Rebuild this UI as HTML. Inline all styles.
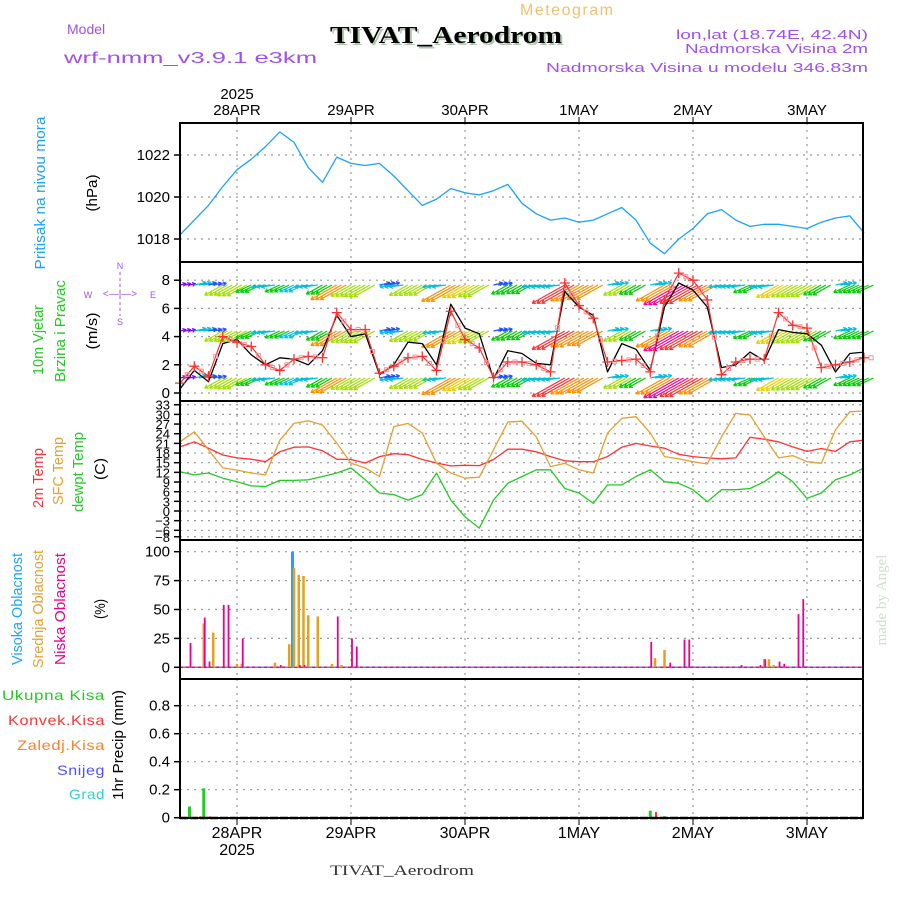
<!DOCTYPE html>
<html><head><meta charset="utf-8"><style>
html,body{margin:0;padding:0;background:#fff;}
svg{display:block;font-family:"Liberation Sans",sans-serif;}
</style></head><body>
<svg id="chart" width="900" height="900" viewBox="0 0 900 900" xmlns="http://www.w3.org/2000/svg">
<rect x="0" y="0" width="900" height="900" fill="#fff"/>
<text x="520" y="15" font-size="16" fill="#f0c070" letter-spacing="1.5">Meteogram</text>
<text x="67" y="34" font-size="14" fill="#a050f0">Model</text>
<text x="64" y="63" font-size="16" fill="#a050f0" textLength="253" lengthAdjust="spacingAndGlyphs">wrf-nmm_v3.9.1 e3km</text>
<text x="332" y="45" font-size="24" font-weight="bold" fill="#b0c8b0" font-family="Liberation Serif, serif" textLength="232" lengthAdjust="spacingAndGlyphs">TIVAT_Aerodrom</text>
<text x="330" y="43" font-size="24" font-weight="bold" fill="#000" font-family="Liberation Serif, serif" textLength="232" lengthAdjust="spacingAndGlyphs">TIVAT_Aerodrom</text>
<text x="868" y="39" font-size="13" fill="#a050f0" text-anchor="end" textLength="192" lengthAdjust="spacingAndGlyphs">lon,lat (18.74E, 42.4N)</text>
<text x="868" y="53" font-size="13" fill="#a050f0" text-anchor="end" textLength="183" lengthAdjust="spacingAndGlyphs">Nadmorska Visina 2m</text>
<text x="868" y="72" font-size="13" fill="#a050f0" text-anchor="end" textLength="322" lengthAdjust="spacingAndGlyphs">Nadmorska Visina u modelu 346.83m</text>

<g font-size="15">
<text transform="translate(45,193) rotate(-90)" text-anchor="middle" fill="#1aa3ff" textLength="153" lengthAdjust="spacingAndGlyphs">Pritisak na nivou mora</text>
<text transform="translate(97,193) rotate(-90)" text-anchor="middle" fill="#000" textLength="37" lengthAdjust="spacingAndGlyphs">(hPa)</text>
<text transform="translate(43,340) rotate(-90)" text-anchor="middle" fill="#22cc22" textLength="70" lengthAdjust="spacingAndGlyphs">10m Vjetar</text>
<text transform="translate(65,331) rotate(-90)" text-anchor="middle" fill="#22cc22" textLength="102" lengthAdjust="spacingAndGlyphs">Brzina i Pravac</text>
<text transform="translate(97,331) rotate(-90)" text-anchor="middle" fill="#000" textLength="37" lengthAdjust="spacingAndGlyphs">(m/s)</text>
<text transform="translate(43,478) rotate(-90)" text-anchor="middle" fill="#ff3333" textLength="60" lengthAdjust="spacingAndGlyphs">2m Temp</text>
<text transform="translate(63,471) rotate(-90)" text-anchor="middle" fill="#e8a030" textLength="68" lengthAdjust="spacingAndGlyphs">SFC Temp</text>
<text transform="translate(83,472) rotate(-90)" text-anchor="middle" fill="#22cc22" textLength="80" lengthAdjust="spacingAndGlyphs">dewpt Temp</text>
<text transform="translate(105,469) rotate(-90)" text-anchor="middle" fill="#000" textLength="22" lengthAdjust="spacingAndGlyphs">(C)</text>
<text transform="translate(22,609) rotate(-90)" text-anchor="middle" fill="#1aa3ff" textLength="112" lengthAdjust="spacingAndGlyphs">Visoka Oblacnost</text>
<text transform="translate(43,609) rotate(-90)" text-anchor="middle" fill="#e8a030" textLength="118" lengthAdjust="spacingAndGlyphs">Srednja Oblacnost</text>
<text transform="translate(65,609) rotate(-90)" text-anchor="middle" fill="#ee0088" textLength="112" lengthAdjust="spacingAndGlyphs">Niska Oblacnost</text>
<text transform="translate(105,609) rotate(-90)" text-anchor="middle" fill="#000" textLength="20" lengthAdjust="spacingAndGlyphs">(%)</text>
<text transform="translate(123,745) rotate(-90)" text-anchor="middle" fill="#000" textLength="110" lengthAdjust="spacingAndGlyphs">1hr Precip (mm)</text>
</g>
<g font-size="14" text-anchor="end" letter-spacing="0.5">
<text x="105" y="700" fill="#22cc22" textLength="103" lengthAdjust="spacingAndGlyphs">Ukupna  Kisa</text>
<text x="105" y="725" fill="#ff3333" textLength="97" lengthAdjust="spacingAndGlyphs">Konvek.Kisa</text>
<text x="105" y="750" fill="#ff8030" textLength="88" lengthAdjust="spacingAndGlyphs">Zaledj.Kisa</text>
<text x="105" y="775" fill="#5050ff" textLength="48" lengthAdjust="spacingAndGlyphs">Snijeg</text>
<text x="105" y="799" fill="#30d0d0" textLength="36" lengthAdjust="spacingAndGlyphs">Grad</text>
</g>
<g font-size="9" fill="#a050f0" stroke="none">
<text x="120" y="269" text-anchor="middle">N</text>
<text x="120" y="325" text-anchor="middle">S</text>
<text x="88" y="298" text-anchor="middle">W</text>
<text x="153" y="298" text-anchor="middle">E</text>
<text x="120" y="297" text-anchor="middle" font-size="10">&lt;—|—&gt;</text>
<line x1="120" y1="272" x2="120" y2="316" stroke="#a050f0" stroke-dasharray="3,3"/>
</g>
<text transform="translate(886,600) rotate(-90)" text-anchor="middle" font-size="15" fill="#d0e0d0" font-family="Liberation Serif, serif">made by Angel</text>
<text x="330" y="875" font-size="15" fill="#333" font-family="Liberation Serif, serif" textLength="144" lengthAdjust="spacingAndGlyphs">TIVAT_Aerodrom</text>
<g id="plots"></g>
</svg>
<script>
// ---- data (3-hourly, from 27APR 12Z) ----
const hours = [0,3,6,9,12,15,18,21,24,27,30,33,36,39,42,45,48,51,54,57,60,63,66,69,72,75,78,81,84,87,90,93,96,99,102,105,108,111,114,117,120,123,126,129,132,135,138,141,144];
const pressure = [1018.2,1018.9,1019.6,1020.5,1021.3,1021.8,1022.4,1023.1,1022.6,1021.4,1020.7,1021.9,1021.6,1021.5,1021.6,1021.0,1020.3,1019.6,1019.9,1020.4,1020.2,1020.1,1020.3,1020.6,1019.7,1019.2,1018.9,1019.0,1018.8,1018.9,1019.2,1019.5,1018.9,1017.8,1017.3,1018.0,1018.5,1019.2,1019.4,1018.9,1018.6,1018.7,1018.7,1018.6,1018.5,1018.8,1019.0,1019.1,1018.3];
const windSpeed = [0.3,1.6,0.8,3.5,3.8,2.7,2.0,2.5,2.4,2.0,3.0,5.5,4.0,4.2,1.3,2.0,3.6,3.5,2.0,6.3,4.6,4.2,1.0,3.0,2.8,2.1,2.0,7.2,6.1,5.5,1.5,3.5,3.1,1.6,6.1,7.8,7.3,6.1,1.8,2.0,2.9,2.3,4.5,4.3,4.2,3.4,1.5,2.8,2.9];
const windGust = [0.7,1.9,1.2,4.0,3.6,3.3,2.0,1.6,2.4,2.6,2.5,5.7,4.5,4.5,1.4,1.9,2.5,2.6,1.6,5.8,3.8,3.2,1.1,2.2,2.2,2.0,1.5,7.8,6.2,5.3,2.2,2.3,2.4,1.5,6.6,8.5,8.0,6.6,1.3,2.2,2.4,2.4,5.7,4.8,4.6,1.8,2.0,2.2,2.5];
const windDir = [255,255,255,55,55,60,80,60,60,80,55,55,55,55,255,80,55,55,80,55,55,55,255,55,55,80,80,55,55,55,255,55,55,255,55,55,55,55,80,80,60,80,55,55,55,55,255,60,60];
const temp2m = [19.9,21.5,19.5,17.4,16.5,16.1,15.3,18.4,19.8,19.9,18.7,16.1,16.0,14.9,16.9,17.8,17.5,16.0,14.9,14.0,14.2,14.1,16.0,19.2,19.2,18.4,16.9,15.6,15.3,15.3,16.9,19.8,21.0,20.2,19.5,17.6,16.9,16.5,16.2,16.5,22.9,22.3,21.5,19.9,18.5,19.4,18.5,21.5,22.0];
const sfcTemp = [21.5,24.6,19.0,13.4,12.7,11.8,11.2,22.0,27.2,28.0,26.7,21.1,14.8,13.4,10.7,26.2,27.2,24.2,14.8,11.8,10.2,10.5,19.0,27.6,27.9,23.0,13.8,14.8,12.8,11.8,24.2,28.8,29.3,24.2,16.9,16.2,15.3,14.6,23.0,30.3,29.8,23.0,16.5,17.2,15.3,14.8,25.2,30.8,31.1];
const dewTemp = [12.2,11.2,11.8,10.2,9.1,7.8,7.6,9.5,9.5,9.7,10.7,11.8,13.4,9.7,5.6,5.1,3.4,5.1,11.8,3.4,-1.8,-5.3,3.4,8.6,10.7,12.8,12.8,7.0,5.6,2.4,8.1,8.1,10.7,12.8,9.1,8.6,6.6,2.9,6.6,6.6,7.0,9.1,12.2,9.1,3.9,5.6,9.7,11.2,13.4];
const lowCloudHours = [2,5,6,9,10,13,21,25,26,33,36,37,99,103,106,107,118,122,123,126,127,130,131];
const lowCloudVals  = [21,43,5,54,54,25,2,2,2,44,25,18,22,4,24,24,2,2,7,5,3,46,59];
const midCloudHours = [5,7,12,13,20,23,24,25,26,27,29,32,34,100,102,123,124,125];
const midCloudVals  = [38,30,3,3,4,20,86,80,79,45,44,3,2,8,15,7,7,2];
const highCloudHours = [24];
const highCloudVals  = [100];
const precipHours = [2,5,99,102];
const precipTotal = [0.08,0.21,0.05,0.01];
const convHours = [4,6,100];
const convVals = [0.01,0.01,0.04];
const dayLabels = ["28APR","29APR","30APR","1MAY","2MAY","3MAY"];
const dayHours = [12,36,60,84,108,132];
const pTicks = [1018,1020,1022];
const wTicks = [0,2,4,6,8];
const tTicks = [33,30,27,24,21,18,15,12,9,6,3,0,-3,-6,-8];
const cTicks = [0,25,50,75,100];
const rTicks = [0,0.2,0.4,0.6,0.8];

// ---- scales ----
const X = h => 180 + h*4.75;
const yP = v => 155 - (v-1022)*21;
const yW = v => 393 - v*14.1;
const yT = v => 511 - v*3.22;
const yC = v => 667.3 - v*1.156;
const yR = v => 817.7 - v*140;
const NS = "http://www.w3.org/2000/svg";
const root = document.getElementById('plots');
function mk(tag, attrs, parent){ const e=document.createElementNS(NS,tag); for(const k in attrs) e.setAttribute(k,attrs[k]); (parent||root).appendChild(e); return e; }

const panels = [
 {name:'pressure', top:123, bot:262, ticks:pTicks, y:yP, fmt:v=>String(v)},
 {name:'wind', top:262, bot:401, ticks:wTicks, y:yW, fmt:v=>String(v)},
 {name:'temperature', top:401, bot:540, ticks:tTicks, y:yT, fmt:v=>v<0?'−'+(-v):String(v)},
 {name:'cloud', top:540, bot:679, ticks:cTicks, y:yC, fmt:v=>String(v)},
 {name:'precip', top:679, bot:818, ticks:rTicks, y:yR, fmt:v=>v===0?'0':v.toFixed(1)}
];
panels.forEach(p=>{
  const g = mk('g',{});
  
  
  p.ticks.forEach(t=>{
    const yy=p.y(t);
    const gl = mk('line',{x1:180,x2:863,y1:yy,y2:yy,stroke:'#999','stroke-dasharray':'2,5','stroke-width':1.2},g);
    
    
    mk('line',{x1:174,x2:180,y1:yy,y2:yy,stroke:'#000','stroke-width':1.5},g);
    const tx = mk('text',{x:170,y:yy+5,'font-size':p.name==='temperature'?13:15,'text-anchor':'end',fill:'#000'},g);
    
    
    tx.textContent=p.fmt(t);
  });
  dayHours.forEach(h=>{
    const vl = mk('line',{x1:X(h),x2:X(h),y1:p.top,y2:p.bot,stroke:'#999','stroke-dasharray':'2,5','stroke-width':1.2},g);
    
    
  });
});

function path(arr, yf){ return hours.map((h,i)=>(i?'L':'M')+X(h).toFixed(1)+','+yf(arr[i]).toFixed(1)).join(''); }
function line(arr,yf,color,name,w){
  const e = mk('path',{d:path(arr,yf),fill:'none',stroke:color,'stroke-width':w||1.3,'stroke-linejoin':'round'});
  
  
}
line(pressure,yP,'#1aa3ff','pressure-line');

// wind arrows
const rows=[285,331,378];
const cols=['#8000ff','#2050ff','#00c0e0','#00cc00','#a0e000','#e8d000','#ff9000','#ff3030','#ff0090'];
function wcol(s){ return cols[Math.max(0,Math.min(8,Math.round(s)))]; }
const wg = mk('g',{});


hours.forEach((h,i)=>{
  const s=windSpeed[i], th=(windDir[i]+180)*Math.PI/180;
  const L=5+s*4.5, dx=Math.sin(th), dy=-Math.cos(th)*0.8;
  const n=Math.hypot(dx,dy);
  for(let k=0;k<3;k++){
    rows.forEach(ry=>{
      const x0=X(h+k), y0=ry;
      const x1=x0+dx/n*L, y1=y0+dy/n*L;
      const c=wcol(s);
      const a = mk('line',{x1:x0,y1:y0,x2:x1,y2:y1,stroke:c,'stroke-width':1.2},wg);
      
      
      const ang=Math.atan2(y1-y0,x1-x0);
      mk('path',{d:`M${x1},${y1}L${x1-4*Math.cos(ang-0.5)},${y1-4*Math.sin(ang-0.5)}M${x1},${y1}L${x1-4*Math.cos(ang+0.5)},${y1-4*Math.sin(ang+0.5)}`,stroke:c,'stroke-width':1.2,fill:'none'},wg);
    });
  }
});
line(windSpeed,yW,'#000','wind-speed-line',1.3);
line(windGust,yW,'#ff3030','wind-gust-line',1.2);
hours.forEach((h,i)=>{
  const x=X(h), y=yW(windGust[i]);
  const m = mk('path',{d:`M${x-5},${y}H${x+5}M${x},${y-5}V${y+5}`,stroke:'#ff3030','stroke-width':1.3});
  
  
  mk('rect',{x:X(h+1.5)-2,y:yW((windGust[i]+(windGust[i+1]??windGust[i]))/2)-2,width:4,height:4,fill:'none',stroke:'#ff9090','stroke-width':1});
});

line(temp2m,yT,'#ff3333','temp-2m-line');
line(sfcTemp,yT,'#e8a030','sfc-temp-line');
line(dewTemp,yT,'#22cc22','dewpoint-line');

// cloud bars
mk('line',{x1:180,x2:863,y1:yC(0),y2:yC(0),stroke:'#ee0088','stroke-dasharray':'3,3','stroke-width':1.5});
mk('line',{x1:183,x2:863,y1:yC(0),y2:yC(0),stroke:'#1aa3ff','stroke-dasharray':'3,3','stroke-width':1.5});
function bars(hs,vs,yf,color,off,w,name){
  hs.forEach((h,i)=>{
    const x=X(h)+off, y=yf(vs[i]);
    const r = mk('rect',{x:x-w/2,y:y,width:w,height:Math.max(0.5,yf(0)-y),fill:color});
    
    
  });
}
bars(highCloudHours,highCloudVals,yC,'#1aa3ff',-1.5,3,'high-cloud-bar');
bars(midCloudHours,midCloudVals,yC,'#e8a020',0,2.5,'mid-cloud-bar');
bars(lowCloudHours,lowCloudVals,yC,'#ee0088',1,1.8,'low-cloud-bar');
bars(precipHours,precipTotal,yR,'#22cc22',0,3,'precip-total-bar');
bars(convHours,convVals,yR,'#ff3333',1,2,'precip-convective-bar');

// panel frames
panels.forEach(p=>{
  const r = mk('rect',{x:180,y:p.top,width:683,height:p.bot-p.top,fill:'none',stroke:'#000','stroke-width':2});
  
  
});
mk('line',{x1:180,x2:863,y1:818,y2:818,stroke:'#000','stroke-width':2.5,'stroke-dasharray':'8,2'});
// x axis labels
dayHours.forEach((h,i)=>{
  mk('line',{x1:X(h),x2:X(h),y1:117,y2:123,stroke:'#000'});
  mk('line',{x1:X(h),x2:X(h),y1:818,y2:825,stroke:'#000'});
  const t = mk('text',{x:X(h),y:115,'font-size':15,'text-anchor':'middle',fill:'#000'});
  
  
  t.textContent=dayLabels[i];
  const b = mk('text',{x:X(h),y:838,'font-size':16,'text-anchor':'middle',fill:'#000'});
  
  
  b.textContent=dayLabels[i];
});
const y1 = mk('text',{x:X(12),y:99,'font-size':15,'text-anchor':'middle',fill:'#000'});


y1.textContent='2025';
const y2 = mk('text',{x:X(12),y:855,'font-size':16,'text-anchor':'middle',fill:'#000'});


y2.textContent='2025';
</script>
</body></html>
